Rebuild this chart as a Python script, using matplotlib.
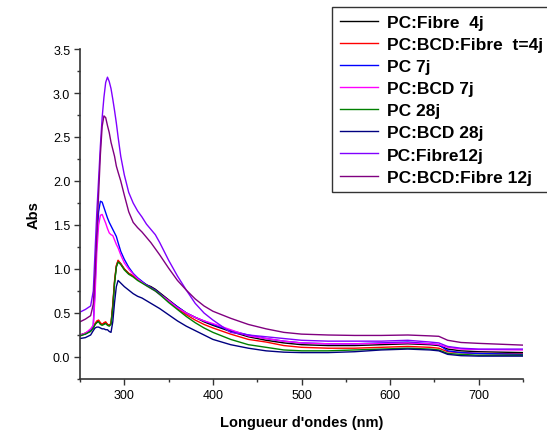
import matplotlib
matplotlib.use("Agg")
import matplotlib.pyplot as plt
from matplotlib.ticker import MultipleLocator

plt.rcParams['font.family'] = ['Liberation Sans', 'DejaVu Sans']

wavelength = [250, 256, 262, 265, 267, 269, 271, 273, 275, 277, 279, 281, 283, 285, 287, 289, 291, 293,
              296, 300, 305, 310, 315, 320, 325, 330, 335, 340, 350, 360, 370, 380, 390, 400, 420, 440,
              460, 480, 500, 530, 560, 590, 620, 645, 655, 665, 680, 700, 750]

pc_fibre_4j = [0.25, 0.27, 0.30, 0.33, 0.37, 0.40, 0.41, 0.38, 0.37, 0.38, 0.39, 0.37, 0.36, 0.38, 0.58, 0.85, 1.03, 1.09,
               1.06, 1.00, 0.95, 0.92, 0.89, 0.85, 0.82, 0.80, 0.77, 0.73, 0.65, 0.57, 0.50, 0.45, 0.40, 0.36, 0.29, 0.23,
               0.19, 0.16, 0.14, 0.13, 0.13, 0.14, 0.15, 0.14, 0.13, 0.09, 0.07, 0.06, 0.05]
pc_bcd_fibre_4j = [0.24, 0.27, 0.30, 0.34, 0.38, 0.41, 0.42, 0.39, 0.37, 0.39, 0.40, 0.37, 0.36, 0.38, 0.60, 0.87, 1.04, 1.10,
                   1.06, 1.00, 0.95, 0.92, 0.88, 0.85, 0.82, 0.79, 0.76, 0.72, 0.64, 0.55, 0.48, 0.42, 0.37, 0.33, 0.26, 0.20,
                   0.17, 0.13, 0.11, 0.10, 0.10, 0.11, 0.12, 0.11, 0.10, 0.06, 0.05, 0.04, 0.035]
pc_7j = [0.25, 0.26, 0.30, 0.36, 0.80, 1.35, 1.65, 1.77, 1.76, 1.70, 1.64, 1.58, 1.53, 1.49, 1.45, 1.41, 1.37, 1.30,
         1.20, 1.11, 1.02, 0.95, 0.90, 0.86, 0.82, 0.79, 0.76, 0.72, 0.64, 0.57, 0.50, 0.45, 0.41, 0.37, 0.30, 0.25,
         0.21, 0.18, 0.16, 0.15, 0.15, 0.16, 0.17, 0.15, 0.14, 0.07, 0.05, 0.04, 0.03]
pc_bcd_7j = [0.25, 0.27, 0.32, 0.36, 0.70, 1.20, 1.50, 1.61, 1.62, 1.57, 1.52, 1.46, 1.41, 1.39, 1.38, 1.33, 1.28, 1.24,
             1.16, 1.07, 1.00, 0.94, 0.89, 0.85, 0.81, 0.78, 0.75, 0.71, 0.64, 0.56, 0.50, 0.45, 0.41, 0.38, 0.31, 0.24,
             0.21, 0.18, 0.16, 0.15, 0.15, 0.155, 0.16, 0.15, 0.14, 0.11, 0.09, 0.085, 0.08]
pc_28j = [0.24, 0.26, 0.29, 0.33, 0.37, 0.39, 0.40, 0.37, 0.36, 0.37, 0.38, 0.36, 0.35, 0.37, 0.56, 0.84, 1.02, 1.08,
          1.05, 0.99, 0.94, 0.91, 0.87, 0.84, 0.81, 0.78, 0.75, 0.71, 0.62, 0.54, 0.46, 0.39, 0.33, 0.28, 0.20, 0.14,
          0.11, 0.08, 0.07, 0.07, 0.08, 0.09, 0.10, 0.09, 0.08, 0.04, 0.03, 0.02, 0.02]
pc_bcd_28j = [0.21, 0.22, 0.25, 0.30, 0.33, 0.34, 0.34, 0.33, 0.32, 0.32, 0.31, 0.31, 0.29, 0.28, 0.40, 0.62, 0.80, 0.87,
              0.84, 0.80, 0.76, 0.72, 0.69, 0.67, 0.64, 0.61, 0.58, 0.55, 0.48, 0.41, 0.35, 0.30, 0.25, 0.20, 0.14, 0.10,
              0.07, 0.055, 0.05, 0.05, 0.06, 0.08, 0.09, 0.08, 0.07, 0.03, 0.015, 0.01, 0.01]
pc_fibre_12j = [0.51, 0.54, 0.58, 0.75, 1.20, 1.65, 2.02, 2.40, 2.72, 2.95, 3.12, 3.18, 3.13, 3.05, 2.93, 2.80, 2.66, 2.50,
                2.28, 2.07, 1.87, 1.75, 1.66, 1.59, 1.51, 1.45, 1.39, 1.30, 1.10, 0.92, 0.76, 0.61, 0.50, 0.42, 0.28, 0.25,
                0.23, 0.21, 0.19, 0.18, 0.18, 0.18, 0.19, 0.17, 0.16, 0.12, 0.10, 0.09, 0.09]
pc_bcd_fibre_12j = [0.40, 0.43, 0.47, 0.60, 0.95, 1.40, 1.85, 2.30, 2.62, 2.74, 2.72, 2.63, 2.55, 2.44, 2.36, 2.28, 2.17, 2.10,
                    2.00, 1.84, 1.65, 1.53, 1.47, 1.42, 1.36, 1.30, 1.23, 1.16, 1.01, 0.87, 0.76, 0.66, 0.58, 0.52, 0.44, 0.37,
                    0.32, 0.28, 0.26, 0.25, 0.245, 0.245, 0.25, 0.24, 0.235, 0.19, 0.165, 0.155, 0.135]

series = [
    ("PC:Fibre  4j", pc_fibre_4j, "#000000"),
    ("PC:BCD:Fibre  t=4j", pc_bcd_fibre_4j, "#ff0000"),
    ("PC 7j", pc_7j, "#0000ff"),
    ("PC:BCD 7j", pc_bcd_7j, "#ff00ff"),
    ("PC 28j", pc_28j, "#008000"),
    ("PC:BCD 28j", pc_bcd_28j, "#000080"),
    ("PC:Fibre12j", pc_fibre_12j, "#8000ff"),
    ("PC:BCD:Fibre 12j", pc_bcd_fibre_12j, "#800080"),
]

W, H = 547, 439
fig = plt.figure(figsize=(W / 100, H / 100), dpi=100)
ax = fig.add_axes([80 / W, 1 - 380 / H, (523 - 80) / W, (380 - 50) / H])

handles = []
for label, vals, color in series:
    h, = ax.plot(wavelength, vals, color=color, lw=1.0, label=label)
    handles.append(h)

ax.set_xlim(250, 750)
ax.set_ylim(-0.25, 3.5)
ax.xaxis.set_major_locator(MultipleLocator(100))
ax.xaxis.set_minor_locator(MultipleLocator(50))
ax.yaxis.set_major_locator(MultipleLocator(0.5))
ax.yaxis.set_minor_locator(MultipleLocator(0.25))
ax.set_yticks([0.0, 0.5, 1.0, 1.5, 2.0, 2.5, 3.0, 3.5])
ax.set_yticklabels(["0.0", "0.5", "1.0", "1.5", "2.0", "2.5", "3.0", "3.5"])
ax.tick_params(which='major', direction='out', length=4, width=1, labelsize=9, pad=3, colors='#333333', labelcolor='black')
ax.tick_params(which='minor', direction='out', length=2.5, width=1, colors='#333333')
for s in ['top', 'right']:
    ax.spines[s].set_visible(False)
for s in ['left', 'bottom']:
    ax.spines[s].set_linewidth(1.2)
    ax.spines[s].set_color('#333333')

ax.set_xlabel("Longueur d'ondes (nm)", fontsize=10.5, fontweight='bold', labelpad=10)
ax.set_ylabel("Abs", fontsize=10.5, fontweight='bold', labelpad=9)

leg = fig.legend(handles=handles, loc='upper left', bbox_to_anchor=(332 / W, 1 - 8 / H),
                 prop={'weight': 'bold', 'size': 12.5}, frameon=True, fancybox=False,
                 handlelength=2.2, handletextpad=0.5, labelspacing=0.4, borderpad=0.45,
                 borderaxespad=0)
leg.get_frame().set_edgecolor('black')
leg.get_frame().set_linewidth(1.0)

fig.savefig("out.png", dpi=100)
